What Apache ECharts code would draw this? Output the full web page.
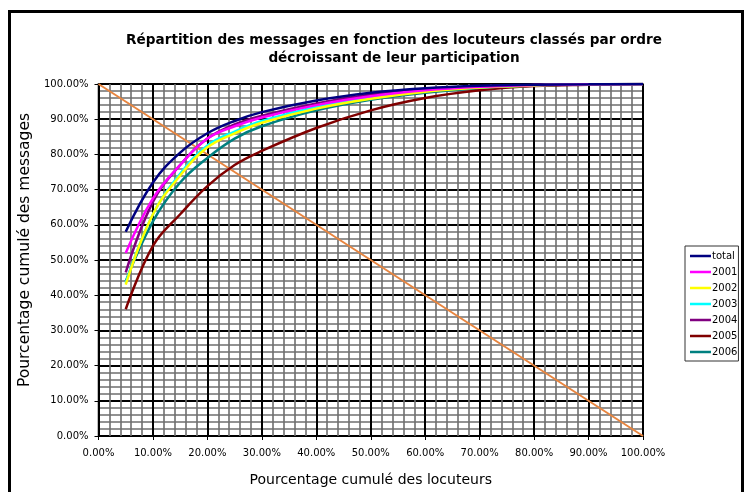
<!DOCTYPE html>
<html>
<head>
<meta charset="utf-8">
<script src="https://cdn.jsdelivr.net/npm/echarts@6/dist/echarts.min.js"></script>
<style>html,body{margin:0;padding:0;background:#fff}#c{width:746px;height:492px}</style>
</head>
<body>
<div id="c"></div>
<script>
const xValues = [5, 10, 15, 20, 25, 30, 40, 50, 60, 70, 80, 90, 100];
const seriesNames = ['total', '2001', '2002', '2003', '2004', '2005', '2006'];
const total  = [58, 72, 80.5, 86, 89.5, 92, 95.3, 97.5, 98.8, 99.5, 99.8, 99.9, 100];
const y2001  = [52, 67.5, 77, 84.5, 88, 90.5, 94, 96.5, 98.2, 99.2, 99.7, 99.9, 100];
const y2002  = [43, 63, 74, 82, 86, 89, 93, 95.8, 97.8, 99, 99.6, 99.9, 100];
const y2003  = [43.5, 63, 74.5, 82.5, 86.5, 89.5, 93.5, 96.3, 98, 99, 99.6, 99.9, 100];
const y2004  = [46.5, 66.5, 77, 84.5, 88.5, 91, 94.5, 97, 98.5, 99.3, 99.7, 99.9, 100];
const y2005  = [36, 54, 63, 71, 77, 81, 87.5, 92.5, 96, 98.2, 99.4, 99.8, 100];
const y2006  = [44, 61, 72, 79, 84.5, 88, 92.5, 95.5, 97.5, 98.8, 99.5, 99.9, 100];
const diagonal = [[0, 100], [100, 0]];
const titleText = 'Répartition des messages en fonction des locuteurs classés par ordre\ndécroissant de leur participation';
const xName = 'Pourcentage cumulé des locuteurs';
const yName = 'Pourcentage cumulé des messages';

const allY = [total, y2001, y2002, y2003, y2004, y2005, y2006];
const colors = ['#000080', '#FF00FF', '#FFFF00', '#00FFFF', '#800080', '#800000', '#008080'];

const chart = echarts.init(document.getElementById('c'), null, {renderer: 'canvas'});
const fmt = v => v.toFixed(2) + '%';
const axisCommon = {
  type: 'value', min: 0, max: 100, interval: 10,
  axisLine: {show: true, lineStyle: {color: '#000', width: 1}},
  axisTick: {show: true, length: 4, lineStyle: {color: '#000'}},
  splitLine: {show: true, lineStyle: {color: '#000', width: 2}},
  minorTick: {show: false, splitNumber: 5},
  minorSplitLine: {show: true, lineStyle: {color: '#6e6e6e', width: 1.6}},
  nameLocation: 'middle',
  nameTextStyle: {fontFamily: 'DejaVu Sans', fontSize: 14, color: '#000'}
};
const series = seriesNames.map((n, i) => ({
  name: n, type: 'line', smooth: 0.4, showSymbol: false, symbol: 'none',
  data: xValues.map((x, j) => [x, allY[i][j]]),
  lineStyle: {color: colors[i], width: 2.5}, itemStyle: {color: colors[i]},
  z: 3 + (6 - i)
}));
series.push({
  name: 'diag', type: 'line', showSymbol: false, symbol: 'none', data: diagonal,
  lineStyle: {color: '#E8853F', width: 2}, z: 2
});
chart.setOption({
  animation: false,
  backgroundColor: '#fff',
  title: {
    text: titleText, left: 389, top: 26, textAlign: 'center',
    textStyle: {fontFamily: 'DejaVu Sans', fontWeight: 'bold', fontSize: 13.6, color: '#000', lineHeight: 18}
  },
  grid: {left: 98.5, right: 103, top: 84, bottom: 55, show: true, borderColor: '#808080', borderWidth: 2, backgroundColor: '#fff'},
  xAxis: Object.assign({}, axisCommon, {name: xName, nameGap: 37,
    axisLabel: {formatter: fmt, color: '#000', fontFamily: 'DejaVu Sans', fontSize: 10, margin: 12}}),
  yAxis: Object.assign({}, axisCommon, {name: yName, nameGap: 58, nameTextStyle: {fontFamily: 'DejaVu Sans', fontSize: 15.5, color: '#000', padding: [0, 0, 0, 20]},
    axisLabel: {formatter: fmt, color: '#000', fontFamily: 'DejaVu Sans', fontSize: 10, margin: 10}}),
  legend: {
    data: seriesNames, orient: 'vertical', left: 685, top: 246,
    icon: 'rect', itemWidth: 21, itemHeight: 2.5, itemGap: 4,
    padding: [4, 1, 3, 5], borderColor: '#333', borderWidth: 1, backgroundColor: '#fff',
    textStyle: {fontFamily: 'DejaVu Sans', fontSize: 10, color: '#000', lineHeight: 12, padding: [0, 0, 0, -4]}
  },
  graphic: [{
    type: 'rect', shape: {x: 9.5, y: 11.5, width: 733, height: 520},
    style: {fill: null, stroke: '#000', lineWidth: 3}, silent: true, z: 100
  }],
  series: series
});
</script>
</body>
</html>
